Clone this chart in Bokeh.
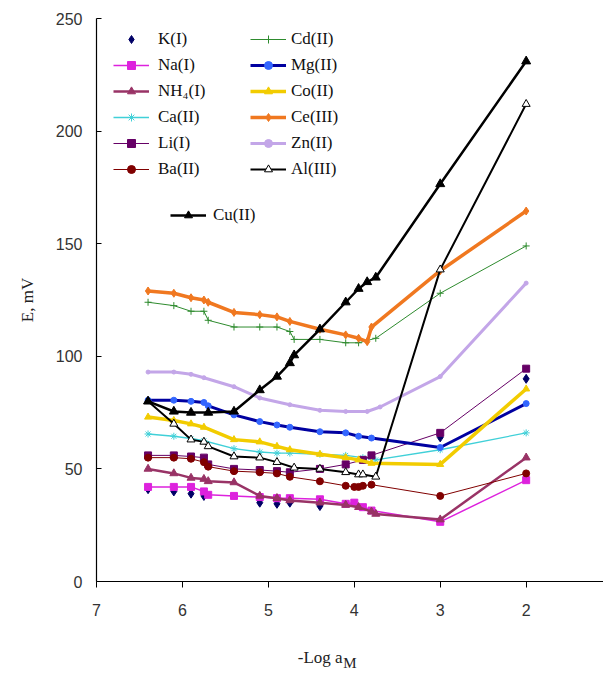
from bokeh.plotting import figure
from bokeh.models import Range1d, FixedTicker, Legend, LegendItem, LinearAxis
from bokeh.embed import file_html
from bokeh.resources import INLINE

# ---------------- data ----------------
K_x = [6.4, 6.1, 5.9, 5.75, 5.1, 4.9, 4.75, 4.4, 3.0, 2.0]
K_y = [41, 40, 39, 38, 35, 34.5, 35, 33.5, 64, 90]

Na_x = [6.4, 6.1, 5.9, 5.75, 5.7, 5.4, 5.1, 4.9, 4.75, 4.4, 4.1, 4.0, 3.9, 3.8, 3.0, 2.0]
Na_y = [42, 42, 42, 40, 38.5, 38, 37.5, 37, 37, 36.5, 34.5, 35, 33, 31.5, 26.5, 45]

NH4_x = [6.4, 6.1, 5.9, 5.75, 5.7, 5.4, 5.1, 4.9, 4.75, 4.4, 4.1, 3.95, 3.8, 3.75, 3.0, 2.0]
NH4_y = [50, 48, 46, 45.5, 44.5, 44, 38, 37, 36, 35, 34, 33, 31, 30, 27.5, 55]

Ca_x = [6.4, 6.1, 5.9, 5.75, 5.4, 5.1, 4.9, 4.75, 4.4, 4.1, 3.9, 3.75, 3.0, 2.0]
Ca_y = [65.5, 64.5, 63.5, 62.5, 59, 57.5, 57, 57, 56.5, 56, 55, 54, 58.5, 66]

Li_x = [6.4, 6.1, 5.9, 5.75, 5.7, 5.4, 5.1, 4.9, 4.75, 4.4, 4.1, 3.9, 3.8, 3.0, 2.0]
Li_y = [56, 56, 55.5, 55, 52, 50, 49.5, 49, 48.5, 50, 52, 54, 56, 66, 94.5]

Ba_x = [6.4, 6.1, 5.9, 5.75, 5.7, 5.4, 5.1, 4.9, 4.75, 4.4, 4.1, 4.0, 3.95, 3.9, 3.8, 3.0, 2.0]
Ba_y = [55, 55, 54.5, 53, 51, 49, 48.5, 48, 46.5, 44.5, 42.5, 42, 42, 42.5, 43, 38, 48]

Cd_x = [6.4, 6.1, 5.9, 5.75, 5.7, 5.4, 5.1, 4.9, 4.75, 4.7, 4.4, 4.1, 3.95, 3.75, 3.0, 2.0]
Cd_y = [124, 122.5, 120, 120, 116, 113, 113, 113, 111, 107.5, 107.5, 106, 106, 108, 128, 149]

Mg_x = [6.4, 6.1, 5.9, 5.75, 5.7, 5.4, 5.1, 4.9, 4.75, 4.4, 4.1, 3.95, 3.8, 3.0, 2.0]
Mg_y = [80.5, 80.5, 80, 79.5, 78, 74, 71, 69.5, 68.5, 66.5, 66, 64.5, 63.7, 59.5, 79]

Co_x = [6.4, 6.1, 5.9, 5.75, 5.4, 5.1, 4.9, 4.75, 4.4, 4.1, 3.95, 3.8, 3.0, 2.0]
Co_y = [73, 71.5, 70, 68.5, 63, 62, 60, 58.5, 56.5, 55, 54, 52.5, 52, 85.5]

Ce_x = [6.4, 6.1, 5.9, 5.75, 5.7, 5.4, 5.1, 4.9, 4.75, 4.4, 4.1, 3.95, 3.85, 3.8, 3.0, 2.0]
Ce_y = [129, 128, 126, 125, 124, 119.5, 118.5, 117.5, 115.5, 112, 109.5, 108, 106.5, 113, 138, 164.5]

Zn_x = [6.4, 6.1, 5.9, 5.75, 5.4, 5.1, 4.75, 4.4, 4.1, 3.85, 3.7, 3.0, 2.0]
Zn_y = [93, 93, 92, 90.5, 86.5, 81.5, 78.5, 76, 75.5, 75.5, 77.5, 91, 132.5]

Al_x = [6.4, 6.1, 5.9, 5.75, 5.7, 5.4, 5.1, 4.9, 4.7, 4.4, 4.1, 3.95, 3.9, 3.75, 3.0, 2.0]
Al_y = [80, 70, 63, 62, 60, 55.5, 55, 53, 50.5, 50, 48.5, 47.5, 47.5, 46.5, 138.5, 212]

Cu_x = [6.4, 6.1, 5.9, 5.7, 5.4, 5.1, 4.9, 4.75, 4.7, 4.4, 4.1, 3.95, 3.85, 3.75, 3.0, 2.0]
Cu_y = [80, 75.5, 75, 75, 75.5, 85, 91, 97, 100.5, 112, 124, 130, 133, 135, 176.5, 231]

x_ticks = [7, 6, 5, 4, 3, 2]
y_ticks = [0, 50, 100, 150, 200, 250]

# ---------------- figure ----------------
p = figure(width=603, height=673, output_backend="svg", toolbar_location=None,
           x_range=Range1d(7, 1.1), y_range=Range1d(0, 250),
           min_border_left=96, min_border_right=0, min_border_top=18, min_border_bottom=92)
p.outline_line_color = None
p.xgrid.visible = False
p.ygrid.visible = False
p.background_fill_color = "white"

for ax in (p.xaxis[0], p.yaxis[0]):
    ax.axis_line_color = "black"
    ax.axis_line_width = 1.2
    ax.major_tick_line_color = "black"
    ax.minor_tick_line_color = None
    ax.major_label_text_font = "Liberation Sans"
    ax.major_label_text_font_size = "16px"
    ax.major_label_text_color = "#333333"

p.xaxis.ticker = FixedTicker(ticks=x_ticks)
p.xaxis.major_tick_out = 6
p.xaxis.major_tick_in = 0
p.xaxis.major_label_standoff = 16
p.xaxis.axis_label = "-Log a" + "\u00a0" * 14
p.xaxis.axis_label_text_font = "Liberation Serif"
p.xaxis.axis_label_text_font_style = "normal"
p.xaxis.axis_label_text_font_size = "17px"
p.xaxis.axis_label_text_color = "#222222"
p.xaxis.axis_label_standoff = 29

# subscript "M" of the x-axis title, as the label of a bare extra axis
sub_axis = LinearAxis(ticker=FixedTicker(ticks=[]), axis_line_color=None,
                      major_tick_line_color=None, minor_tick_line_color=None,
                      major_label_text_font_size="0px", major_label_standoff=0,
                      major_tick_out=0, major_tick_in=0,
                      axis_label="M", axis_label_text_font="Liberation Serif",
                      axis_label_text_font_style="normal", axis_label_text_font_size="15px",
                      axis_label_text_color="#222222", axis_label_standoff=-15)
p.add_layout(sub_axis, "below")

p.yaxis.ticker = FixedTicker(ticks=y_ticks)
p.yaxis.major_tick_in = 5
p.yaxis.major_tick_out = 0
p.yaxis.major_label_standoff = 14
p.yaxis.axis_label = "E, mV"
p.yaxis.axis_label_text_font = "Liberation Serif"
p.yaxis.axis_label_text_font_style = "normal"
p.yaxis.axis_label_text_font_size = "17px"
p.yaxis.axis_label_text_color = "#222222"
p.yaxis.axis_label_standoff = 16

series = [
    # name, xs, ys, line color, line width, marker, marker fill, marker line, size, draw line
    ("K(I)", K_x, K_y, "#000066", 0, "diamond", "#000066", "#000066", 9, False),
    ("Na(I)", Na_x, Na_y, "#DD22DD", 1.5, "square", "#DD22DD", "#DD22DD", 7, True),
    ("NH\u2084(I)", NH4_x, NH4_y, "#993366", 2.5, "triangle", "#993366", "#993366", 8, True),
    ("Ca(II)", Ca_x, Ca_y, "#40D0D8", 1.3, "asterisk", "#40D0D8", "#40D0D8", 7, True),
    ("Li(I)", Li_x, Li_y, "#660066", 1.0, "square", "#660066", "#660066", 7, True),
    ("Ba(II)", Ba_x, Ba_y, "#800000", 1.0, "circle", "#800000", "#800000", 7, True),
    ("Cd(II)", Cd_x, Cd_y, "#2E8B2E", 1.0, "cross", "#2E8B2E", "#2E8B2E", 7, True),
    ("Mg(II)", Mg_x, Mg_y, "#0000A0", 3.0, "circle", "#3366FF", "#3366FF", 6, True),
    ("Co(II)", Co_x, Co_y, "#F2CC00", 3.5, "triangle", "#F2CC00", "#F2CC00", 7, True),
    ("Ce(III)", Ce_x, Ce_y, "#F07820", 3.5, "diamond", "#F07820", "#F07820", 8, True),
    ("Zn(II)", Zn_x, Zn_y, "#C3A6E8", 3.0, "circle", "#C3A6E8", "#C3A6E8", 4, True),
    ("Al(III)", Al_x, Al_y, "#000000", 2.0, "triangle", "white", "black", 8, True),
    ("Cu(II)", Cu_x, Cu_y, "#000000", 2.5, "triangle", "black", "black", 9, True),
]

items = {}
for name, xs, ys, lc, lw, mk, mf, ml, sz, draw_line in series:
    rs = []
    if draw_line:
        rs.append(p.line(xs, ys, line_color=lc, line_width=lw))
    rs.append(p.scatter(xs, ys, marker=mk, size=sz, fill_color=mf, line_color=ml, line_width=1))
    items[name] = LegendItem(label=name, renderers=rs)

def make_legend(names, loc, standoff):
    lg = Legend(items=[items[n] for n in names], location=loc,
                orientation="vertical", padding=0, margin=0, spacing=6,
                glyph_width=36, glyph_height=20, label_height=20,
                label_standoff=standoff,
                label_text_font="Liberation Serif", label_text_font_size="17px",
                label_text_color="#111111",
                background_fill_alpha=0, border_line_color=None)
    p.add_layout(lg)
    return lg

make_legend(["K(I)", "Na(I)", "NH\u2084(I)", "Ca(II)", "Li(I)", "Ba(II)"], (17, 402), 9)
make_legend(["Cd(II)", "Mg(II)", "Co(II)", "Ce(III)", "Zn(II)", "Al(III)"], (154, 402), 5)
make_legend(["Cu(II)"], (74, 356), 7)

open("out.html", "w").write(file_html(p, INLINE))
